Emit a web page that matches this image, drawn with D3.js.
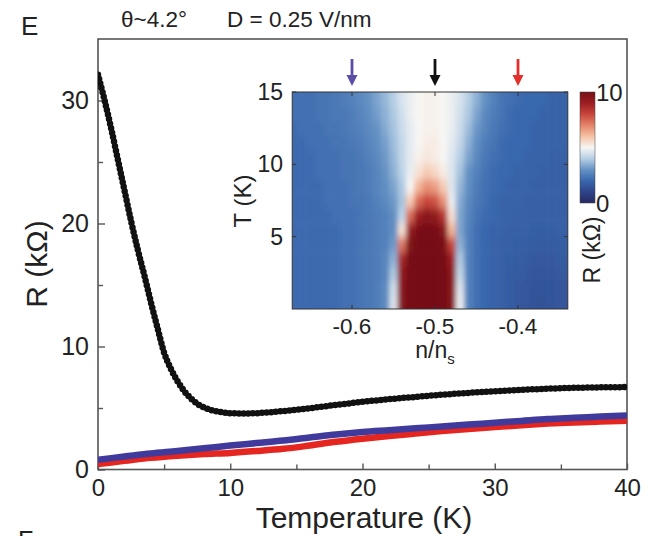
<!DOCTYPE html>
<html><head><meta charset="utf-8">
<script src="https://cdn.jsdelivr.net/npm/d3@7"></script>
<style>
body{margin:0;background:#fff}
svg{display:block;font-family:"Liberation Sans",Arial,Helvetica,sans-serif}
</style>
</head><body>
<svg id="c" width="646" height="536"></svg>
<script>
// ---------- main panel data ----------
const blackT = [0,0.5,1,1.5,2,2.5,3,3.5,4,4.5,5,5.5,6,6.5,7,7.5,8,8.5,9,9.5,10,11,12,13,14,16,18,20,22,24,26,28,30,32,34,36,38,40];
const blackR = [32.1,30.0,27.7,25.2,22.7,20.2,17.9,15.8,13.6,11.5,9.5,8.2,7.2,6.4,5.8,5.35,5.05,4.85,4.72,4.63,4.58,4.55,4.58,4.65,4.75,4.98,5.25,5.5,5.72,5.9,6.08,6.23,6.35,6.47,6.57,6.64,6.68,6.7];
const blueT = [0,2,4,6,8,10,12,14,16,18,20,22,24,26,28,30,32,34,36,38,40];
const blueR = [0.8,1.05,1.3,1.5,1.72,1.95,2.15,2.35,2.6,2.85,3.05,3.2,3.35,3.5,3.65,3.8,3.95,4.1,4.2,4.3,4.4];
const redT  = [0,2,4,6,8,10,12,14,16,18,20,22,24,26,28,30,32,34,36,38,40];
const redR  = [0.45,0.7,0.95,1.12,1.25,1.35,1.5,1.68,1.95,2.25,2.5,2.72,2.92,3.12,3.3,3.45,3.6,3.73,3.82,3.9,3.97];
const xTicks = [0,10,20,30,40];
const xMinor = [5,15,25,35];
const yTicks = [0,10,20,30];
const yMinor = [5,15,25];
const titleText = ["θ~4.2°", "D = 0.25 V/nm"];

// ---------- inset data ----------
const insetN = [-0.67,-0.66,-0.65,-0.64,-0.63,-0.62,-0.61,-0.60,-0.59,-0.58,-0.57,-0.56,-0.55,-0.54,-0.53,-0.52,-0.51,-0.50,-0.49,-0.48,-0.47,-0.46,-0.45,-0.44,-0.43,-0.42,-0.41,-0.40,-0.39,-0.38,-0.37,-0.36,-0.35];
const insetT = [0.5,1.5,2.5,3.5,4.5,5.5,6.5,7.5,8.5,9.5,10.5,11.5,12.5,13.5,14.5];
const insetR = [
 [2.1,2.1,2.1,2.1,2.1,2.1,2.2,2.2,2.3, 2.4,2.5,2.8,4.6, 9.6,10,10,10,10,10,9.6, 4.8,2.6,2.2,2.0,1.9,1.8,1.7,1.6,1.5,1.45,1.4,1.45,1.5],
 [2.1,2.1,2.1,2.1,2.1,2.1,2.2,2.2,2.3, 2.4,2.5,2.8,4.4, 9.5,10,10,10,10,10,9.5, 4.6,2.6,2.2,2.0,1.9,1.8,1.7,1.6,1.5,1.45,1.45,1.45,1.5],
 [2.1,2.1,2.1,2.1,2.1,2.1,2.2,2.2,2.3, 2.4,2.5,2.7,3.9, 9.3,10,10,10,10,10,9.4, 4.2,2.6,2.2,2.0,1.9,1.8,1.7,1.65,1.6,1.5,1.5,1.5,1.6],
 [2.1,2.1,2.1,2.1,2.1,2.1,2.2,2.2,2.3, 2.4,2.5,2.7,3.5, 8.8,10,10,10,10,10,9.0, 3.9,2.6,2.2,2.0,1.9,1.8,1.75,1.7,1.65,1.6,1.6,1.6,1.65],
 [2.1,2.1,2.1,2.1,2.1,2.1,2.2,2.2,2.3, 2.4,2.5,2.6,3.1, 7.2,9.8,10,10,10,9.9,8.0, 3.5,2.6,2.2,2.0,1.9,1.8,1.8,1.75,1.7,1.7,1.65,1.65,1.7],
 [2.1,2.1,2.1,2.1,2.1,2.1,2.2,2.2,2.3, 2.4,2.5,2.6,2.9, 5.4,9.2,9.9,10,9.9,9.6,6.2, 3.3,2.6,2.2,2.0,1.9,1.9,1.8,1.8,1.8,1.75,1.75,1.75,1.8],
 [2.1,2.1,2.1,2.1,2.1,2.2,2.2,2.2,2.3, 2.4,2.5,2.6,2.9, 4.1,7.4,9.0,9.5,9.3,8.4,5.4, 3.3,2.7,2.3,2.1,2.0,1.9,1.9,1.8,1.8,1.8,1.8,1.8,1.8],
 [2.1,2.1,2.1,2.1,2.2,2.2,2.2,2.3,2.3, 2.4,2.6,2.8,3.1, 3.8,5.8,7.4,8.0,7.8,6.8,4.8, 3.4,2.8,2.4,2.2,2.0,1.9,1.9,1.9,1.8,1.8,1.8,1.8,1.8],
 [2.1,2.1,2.1,2.1,2.2,2.2,2.2,2.3,2.4, 2.5,2.7,2.9,3.3, 3.9,5.0,6.2,6.8,6.6,5.8,4.6, 3.6,2.9,2.5,2.2,2.1,2.0,1.9,1.9,1.9,1.8,1.8,1.8,1.8],
 [2.1,2.1,2.1,2.2,2.2,2.2,2.3,2.3,2.4, 2.5,2.7,3.0,3.5, 4.1,4.8,5.4,5.8,5.6,5.2,4.6, 3.8,3.0,2.6,2.3,2.1,2.0,2.0,1.9,1.9,1.9,1.8,1.8,1.8],
 [2.1,2.1,2.1,2.2,2.2,2.2,2.3,2.3,2.4, 2.6,2.8,3.1,3.6, 4.2,4.7,5.1,5.3,5.2,5.0,4.6, 4.0,3.3,2.8,2.4,2.2,2.1,2.0,2.0,1.9,1.9,1.9,1.8,1.8],
 [2.1,2.1,2.2,2.2,2.2,2.3,2.3,2.4,2.5, 2.7,2.9,3.2,3.7, 4.2,4.7,5.0,5.2,5.2,5.0,4.7, 4.2,3.5,2.9,2.5,2.3,2.1,2.0,2.0,2.0,1.9,1.9,1.9,1.9],
 [2.1,2.2,2.2,2.2,2.3,2.3,2.4,2.5,2.6, 2.8,3.0,3.4,3.8, 4.3,4.7,5.0,5.1,5.1,5.0,4.8, 4.3,3.7,3.1,2.7,2.4,2.2,2.1,2.0,2.0,1.9,1.9,1.9,1.9],
 [2.2,2.2,2.2,2.3,2.3,2.4,2.4,2.5,2.7, 2.9,3.2,3.5,3.9, 4.4,4.8,5.0,5.1,5.1,5.0,4.8, 4.4,3.9,3.3,2.8,2.5,2.3,2.1,2.0,2.0,2.0,1.9,1.9,1.9],
 [2.2,2.2,2.2,2.3,2.3,2.4,2.5,2.6,2.8, 3.0,3.3,3.6,4.0, 4.5,4.8,5.0,5.1,5.1,5.0,4.8, 4.5,4.0,3.5,3.0,2.6,2.3,2.2,2.1,2.0,2.0,2.0,1.9,1.9]
];
const insetXTicks = [-0.6,-0.5,-0.4];
const insetYTicks = [5,10,15];
const arrowN = [-0.6,-0.5,-0.4];
const arrowColors = ["#5b4ea6","#111111","#e3302b"];
const cbarTicks = [0,10];
const cmapStops = [0,1,2,3,4,5,6,7,8,9,10];
const cmapColors = ["#262a62","#2e4489","#3967ad","#6592c4","#b6cfe5","#f7f6f4","#f5c2a5","#e4846a","#c8453b","#9b1e23","#761015"];

// ---------- drawing ----------
const svg = d3.select("#c");
const axisCol = "#555";
const txtCol = "#222";

const x = d3.scaleLinear().domain([0,40]).range([98,627]);
const y = d3.scaleLinear().domain([0,35]).range([469.5,39]);

// frame
svg.append("rect").attr("x",x(0)).attr("y",y(35)).attr("width",x(40)-x(0)).attr("height",y(0)-y(35))
  .attr("fill","none").attr("stroke",axisCol).attr("stroke-width",1.6);

function styleAxis(g){
  g.select(".domain").remove();
  g.selectAll(".tick line").attr("stroke",axisCol).attr("stroke-width",1.4);
  g.selectAll(".tick text").attr("fill",txtCol).attr("font-size",24).attr("font-family","Liberation Sans, Arial, sans-serif");
}
const gx = svg.append("g").attr("transform",`translate(0,${y(0)})`)
  .call(d3.axisBottom(x).tickValues(xTicks).tickSizeInner(-6).tickSizeOuter(0).tickPadding(9).tickFormat(d3.format("d")));
styleAxis(gx);
const gxm = svg.append("g").attr("transform",`translate(0,${y(0)})`)
  .call(d3.axisBottom(x).tickValues(xMinor).tickSizeInner(-5).tickSizeOuter(0).tickFormat(""));
styleAxis(gxm);
const gy = svg.append("g").attr("transform",`translate(${x(0)},0)`)
  .call(d3.axisLeft(y).tickValues(yTicks).tickSizeInner(-7).tickSizeOuter(0).tickPadding(9).tickFormat(d3.format("d")));
styleAxis(gy);
gy.selectAll(".tick text").attr("font-size",25);
const gym = svg.append("g").attr("transform",`translate(${x(0)},0)`)
  .call(d3.axisLeft(y).tickValues(yMinor).tickSizeInner(-5).tickSizeOuter(0).tickFormat(""));
styleAxis(gym);

// axis labels
svg.append("text").attr("x",364).attr("y",528).attr("text-anchor","middle")
  .attr("font-size",30).attr("fill",txtCol).text("Temperature (K)");
svg.append("text").attr("transform","translate(47,264) rotate(-90)").attr("text-anchor","middle")
  .attr("font-size",30).attr("fill",txtCol).text("R (kΩ)");

// title + panel letters
svg.append("text").attr("x",21).attr("y",35).attr("font-size",26).attr("fill",txtCol).text("E");
svg.append("text").attr("x",18).attr("y",549).attr("font-size",25).attr("fill",txtCol).text("F");
svg.append("text").attr("x",121).attr("y",27).attr("font-size",22.5).attr("fill",txtCol).text(titleText[0]);
svg.append("text").attr("x",227).attr("y",27).attr("font-size",22.5).attr("fill",txtCol).text(titleText[1]);

// curves
const defs = svg.append("defs");
defs.append("clipPath").attr("id","plotclip").append("rect")
  .attr("x",x(0)).attr("y",y(35)).attr("width",x(40)-x(0)).attr("height",y(0)-y(35));
const line = d3.line().x(d=>x(d[0])).y(d=>y(d[1])).curve(d3.curveMonotoneX);
const cg = svg.append("g").attr("clip-path","url(#plotclip)");
cg.append("path").attr("d",line(d3.zip(redT,redR))).attr("fill","none").attr("stroke","#e5251f").attr("stroke-width",6.5);
cg.append("path").attr("d",line(d3.zip(blueT,blueR))).attr("fill","none").attr("stroke","#3f3a9c").attr("stroke-width",6.5);
cg.append("path").attr("d",line(d3.zip(blackT,blackR))).attr("fill","none").attr("stroke","#111").attr("stroke-width",4.5);
cg.append("path").attr("d",line(d3.zip(blackT,blackR))).attr("fill","none").attr("stroke","#111").attr("stroke-width",6.5)
  .attr("stroke-dasharray","0,4.6").attr("stroke-linecap","round");

// ---------- inset ----------
const ix = d3.scaleLinear().domain([-0.6,-0.4]).range([352,518]);
const iy = d3.scaleLinear().domain([0,15]).range([309,92]);
const nL = -0.672, nR = -0.34;
const color = d3.scaleLinear().domain(cmapStops).range(cmapColors).clamp(true);
defs.append("clipPath").attr("id","insetclip").append("rect")
  .attr("x",ix(nL)).attr("y",iy(15)).attr("width",ix(nR)-ix(nL)).attr("height",iy(0)-iy(15));
const blur = defs.append("filter").attr("id","hblur").attr("x","-10%").attr("y","-10%").attr("width","120%").attr("height","120%");
blur.append("feGaussianBlur").attr("stdDeviation","2.6 4.5");

const cells = [];
insetT.forEach((t,j)=>{
  insetN.forEach((n,i)=>{
    const n0 = i===0 ? nL-0.03 : (insetN[i-1]+n)/2;
    const n1 = i===insetN.length-1 ? nR+0.03 : (insetN[i+1]+n)/2;
    const t0 = j===0 ? -2 : t-0.5;
    const t1 = j===insetT.length-1 ? 17 : t+0.5;
    cells.push({n0,n1,t0,t1,v:insetR[j][i]});
  });
});
const hg = svg.append("g").attr("clip-path","url(#insetclip)").append("g").attr("filter","url(#hblur)");
hg.selectAll("rect").data(cells).join("rect")
  .attr("x",d=>ix(d.n0)).attr("y",d=>iy(d.t1))
  .attr("width",d=>ix(d.n1)-ix(d.n0)+0.6).attr("height",d=>iy(d.t0)-iy(d.t1)+0.6)
  .attr("fill",d=>color(d.v));

// inset frame
svg.append("rect").attr("x",ix(nL)).attr("y",iy(15)).attr("width",ix(nR)-ix(nL)).attr("height",iy(0)-iy(15))
  .attr("fill","none").attr("stroke","#333").attr("stroke-width",1);
insetXTicks.forEach(v=>{
  svg.append("line").attr("x1",ix(v)).attr("x2",ix(v)).attr("y1",iy(0)).attr("y2",iy(0)-4).attr("stroke","#333");
  svg.append("line").attr("x1",ix(v)).attr("x2",ix(v)).attr("y1",iy(15)).attr("y2",iy(15)+4).attr("stroke","#333");
});
insetYTicks.forEach(v=>{
  svg.append("line").attr("x1",ix(nL)).attr("x2",ix(nL)+4).attr("y1",iy(v)).attr("y2",iy(v)).attr("stroke","#333");
  svg.append("line").attr("x1",ix(nR)).attr("x2",ix(nR)-4).attr("y1",iy(v)).attr("y2",iy(v)).attr("stroke","#333");
});
svg.append("g").selectAll("text").data(insetXTicks).join("text")
  .attr("x",d=>ix(d)).attr("y",334).attr("text-anchor","middle").attr("font-size",22.5).attr("fill",txtCol)
  .text(d=>d3.format(".1f")(d).replace("−","-"));
svg.append("g").selectAll("text").data(insetYTicks).join("text")
  .attr("x",283).attr("y",d=>iy(d)).attr("dy","0.35em").attr("text-anchor","end").attr("font-size",23).attr("fill",txtCol)
  .text(d=>d);
const nlab = svg.append("text").attr("x",435).attr("y",358).attr("text-anchor","middle").attr("font-size",23).attr("fill",txtCol);
nlab.append("tspan").text("n/n");
nlab.append("tspan").attr("font-size",15).attr("dy",6).text("s");
svg.append("text").attr("transform","translate(251,201) rotate(-90)").attr("text-anchor","middle")
  .attr("font-size",24).attr("fill",txtCol).text("T (K)");

// arrows
arrowN.forEach((n,i)=>{
  const ax = ix(n);
  svg.append("line").attr("x1",ax).attr("x2",ax).attr("y1",59).attr("y2",77)
    .attr("stroke",arrowColors[i]).attr("stroke-width",2.8);
  svg.append("path").attr("d",`M${ax-5.5},75 L${ax+5.5},75 L${ax},86 Z`).attr("fill",arrowColors[i]);
});

// colorbar
const cy = d3.scaleLinear().domain([0,10]).range([203,92]);
const grad = defs.append("linearGradient").attr("id","cbar").attr("x1",0).attr("x2",0).attr("y1",1).attr("y2",0);
cmapStops.forEach((s,i)=>grad.append("stop").attr("offset",s/10).attr("stop-color",cmapColors[i]));
svg.append("rect").attr("x",580).attr("y",cy(10)).attr("width",15).attr("height",cy(0)-cy(10))
  .attr("fill","url(#cbar)").attr("stroke","#444").attr("stroke-width",0.5);
svg.append("g").selectAll("text").data(cbarTicks).join("text")
  .attr("x",596).attr("y",d=>cy(d)).attr("dy","0.36em").attr("font-size",24).attr("fill",txtCol).text(d=>d);
svg.append("text").attr("transform","translate(600,250) rotate(-90)").attr("text-anchor","middle")
  .attr("font-size",23).attr("fill",txtCol).text("R (kΩ)");
</script>
</body></html>
